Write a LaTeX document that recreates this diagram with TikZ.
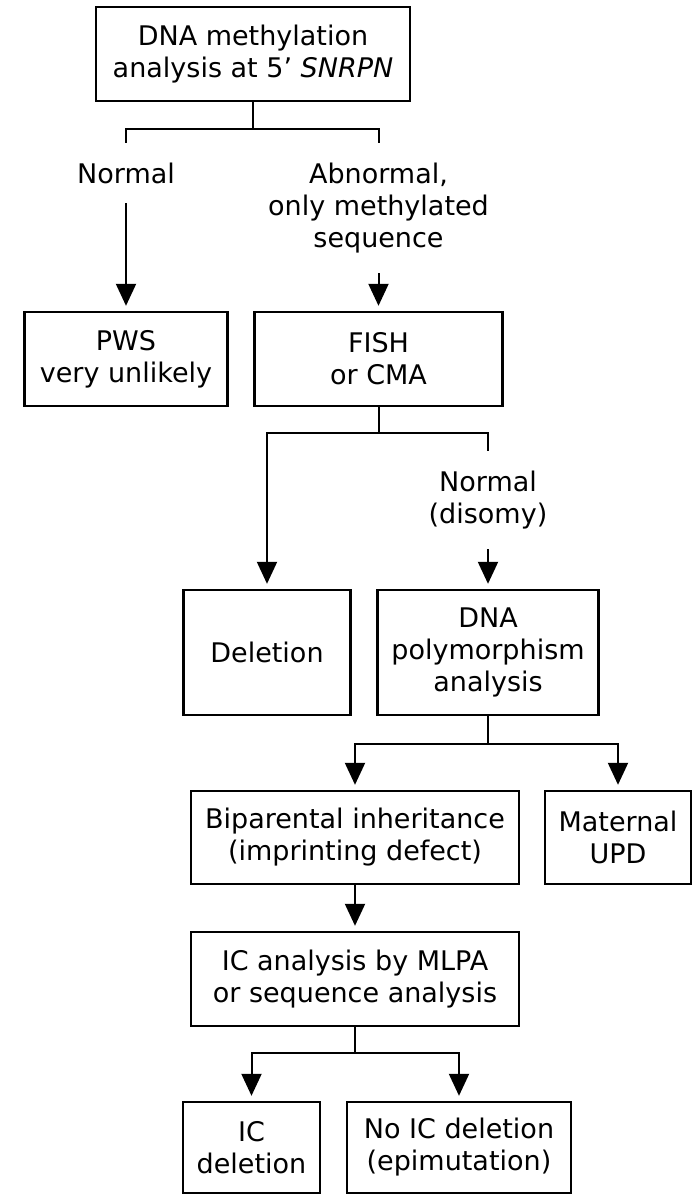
\documentclass[tikz,border=0pt]{standalone}
\usepackage{fontspec}
\setmainfont{DejaVu Sans}
\usetikzlibrary{arrows.meta}

\begin{document}
\begin{tikzpicture}[x=0.5pt, y=-0.5pt, >={Triangle[length=11pt, width=10pt]},
    every node/.style={font=\fontsize{13.5}{16}\selectfont},
    box/.style={draw, line width=1.2pt, align=center, inner sep=0pt},
    lbl/.style={align=center, inner sep=0pt, outer sep=10pt},
    link/.style={line width=1pt},
    arr/.style={link, ->, shorten >=2.5pt}]
  \useasboundingbox (0,0) rectangle (692,1196);
  \node[box, minimum width=157pt, minimum height=47pt] (methyl) at (253,54) {DNA methylation\\analysis at 5’ \textit{SNRPN}};
  \node[lbl] (normal) at (126,173) {Normal};
  \node[lbl] (abnormal) at (378.5,208) {Abnormal,\\only methylated\\sequence};
  \node[box, minimum width=101.5pt, minimum height=47pt] (pws) at (126,359) {PWS\\very unlikely};
  \node[box, minimum width=124pt, minimum height=47pt] (fish) at (378.5,359) {FISH\\or CMA};
  \node[lbl] (disomy) at (488,500) {Normal\\(disomy)};
  \node[box, minimum width=83.5pt, minimum height=62.5pt] (deletion) at (267,652.5) {Deletion};
  \node[box, minimum width=110.5pt, minimum height=62.5pt] (poly) at (488,652.5) {DNA\\polymorphism\\analysis};
  \node[box, minimum width=164pt, minimum height=46.5pt] (biparental) at (355,837.5) {Biparental inheritance\\(imprinting defect)};
  \node[box, minimum width=73pt, minimum height=46.5pt] (upd) at (618,837.5) {Maternal\\UPD};
  \node[box, minimum width=164pt, minimum height=47pt] (icmlpa) at (355,979) {IC analysis by MLPA\\or sequence analysis};
  \node[box, minimum width=68.5pt, minimum height=45.5pt] (icdel) at (251.5,1147.5) {IC\\deletion};
  \node[box, minimum width=112pt, minimum height=45.5pt] (epimut) at (459,1147.5) {No IC deletion\\(epimutation)};
  \draw[link] (methyl.south) -- ++(0,27) -| (normal.north);
  \draw[link] (methyl.south) -- ++(0,27) -| (abnormal.north);
  \draw[arr] (normal) -- (pws);
  \draw[arr] (abnormal) -- (fish);
  \draw[arr] (fish.south) -- ++(0,26) -| (deletion.north);
  \draw[link] (fish.south) -- ++(0,26) -| (disomy.north);
  \draw[arr] (disomy) -- (poly);
  \draw[arr] (poly.south) -- ++(0,28) -| (biparental.north);
  \draw[arr] (poly.south) -- ++(0,28) -| (upd.north);
  \draw[arr] (biparental) -- (icmlpa);
  \draw[arr] (icmlpa.south) -- ++(0,26) -| (icdel.north);
  \draw[arr] (icmlpa.south) -- ++(0,26) -| (epimut.north);
\end{tikzpicture}
\end{document}
